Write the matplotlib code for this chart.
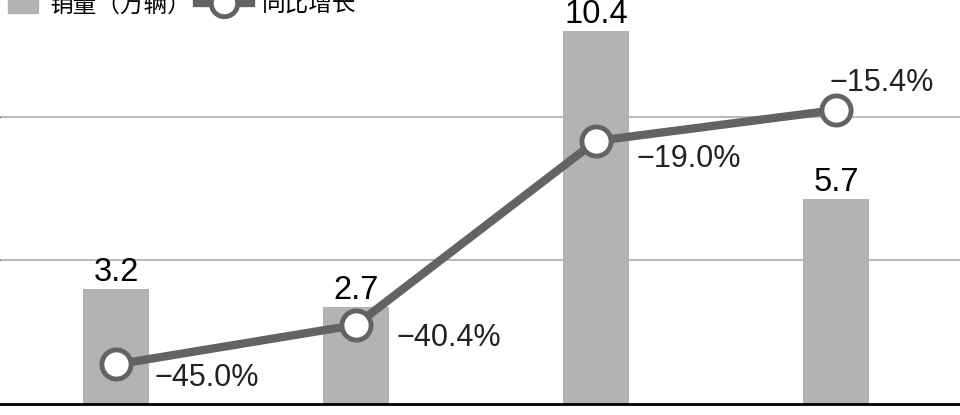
import numpy as np
import matplotlib
matplotlib.use("Agg")
import matplotlib.pyplot as plt
from matplotlib.patches import Rectangle, Patch
from matplotlib.lines import Line2D
from matplotlib.legend_handler import HandlerPatch

# data
categories = ["1", "2", "3", "4"]
sales = [3.2, 2.7, 10.4, 5.7]          # 销量（万辆）
growth = [-45.0, -40.4, -19.0, -15.4]  # 同比增长 %
growth_labels = ["\u221245.0%", "\u221240.4%", "\u221219.0%", "\u221215.4%"]

bar_color = "#b3b3b3"
line_color = "#636363"
cjk = ["Noto Sans CJK SC", "DejaVu Sans"]

fig = plt.figure(figsize=(9.6, 4.15), dpi=100)
ax = fig.add_axes([0, 11 / 415, 1, 404 / 415])
x = np.arange(len(categories))

bars = ax.bar(x, sales, width=66 / 240, color=bar_color, zorder=2)
ax.set_xlim(-116 / 240, (960 - 116) / 240)
ax.set_ylim(0, 11.25)
ax.set_yticks([4, 8])
ax.yaxis.grid(True, color="#bbbbbb", linewidth=1.5, zorder=0)
ax.set_axisbelow(True)
ax.tick_params(left=False, bottom=False, labelleft=False, labelbottom=False)
for s in ["top", "left", "right"]:
    ax.spines[s].set_visible(False)
ax.spines["bottom"].set_color("black")
ax.spines["bottom"].set_linewidth(2)
ax.spines["bottom"].set_zorder(5)

for xi, v in zip(x, sales):
    ax.annotate(f"{v:.1f}", xy=(xi, v), xytext=(0, 8), textcoords="offset pixels",
                ha="center", va="baseline", fontsize=23.5, family="Liberation Sans",
                color="black")

ax2 = ax.twinx()
ax2.set_ylim(-49.6, -2.6)
ax2.axis("off")
ax2.plot(x, growth, color=line_color, linewidth=6, marker="o", markersize=21,
         markerfacecolor="white", markeredgecolor=line_color, markeredgewidth=3.5,
         zorder=4)

offsets = [(39, -14), (40, -13), (41, -18), (46, 27)]
aligns = ["left", "left", "left", "center"]
for xi, g, lab, off, ha in zip(x, growth, growth_labels, offsets, aligns):
    ax2.annotate(lab, xy=(xi, g), xytext=off, textcoords="offset pixels",
                 ha=ha, va="center", fontsize=22, family="Liberation Sans",
                 color="#222222")


def small_square(legend, orig_handle, xdescent, ydescent, width, height, fontsize):
    # square sits at the right end of the handle box so the text follows it closely
    w = width * 0.56
    return Rectangle((-xdescent + width - w, -ydescent - 0.1 * height), w, height * 1.2)


handles = [Patch(color=bar_color),
           Line2D([], [], color=line_color, linewidth=6, marker="o", markersize=19,
                  markerfacecolor="white", markeredgecolor=line_color, markeredgewidth=3.5)]
fig.legend(handles, ["销量（万辆）", "同比增长"], loc="center left",
           bbox_to_anchor=(-23 / 960, 1.0 - 5 / 415), ncol=2, frameon=False,
           prop={"family": cjk, "size": 17, "weight": "light"},
           handlelength=2.3, handletextpad=0.45, columnspacing=0.25,
           borderaxespad=0, borderpad=0.3,
           handler_map={Patch: HandlerPatch(patch_func=small_square)})

fig.savefig("out.png", dpi=100)
